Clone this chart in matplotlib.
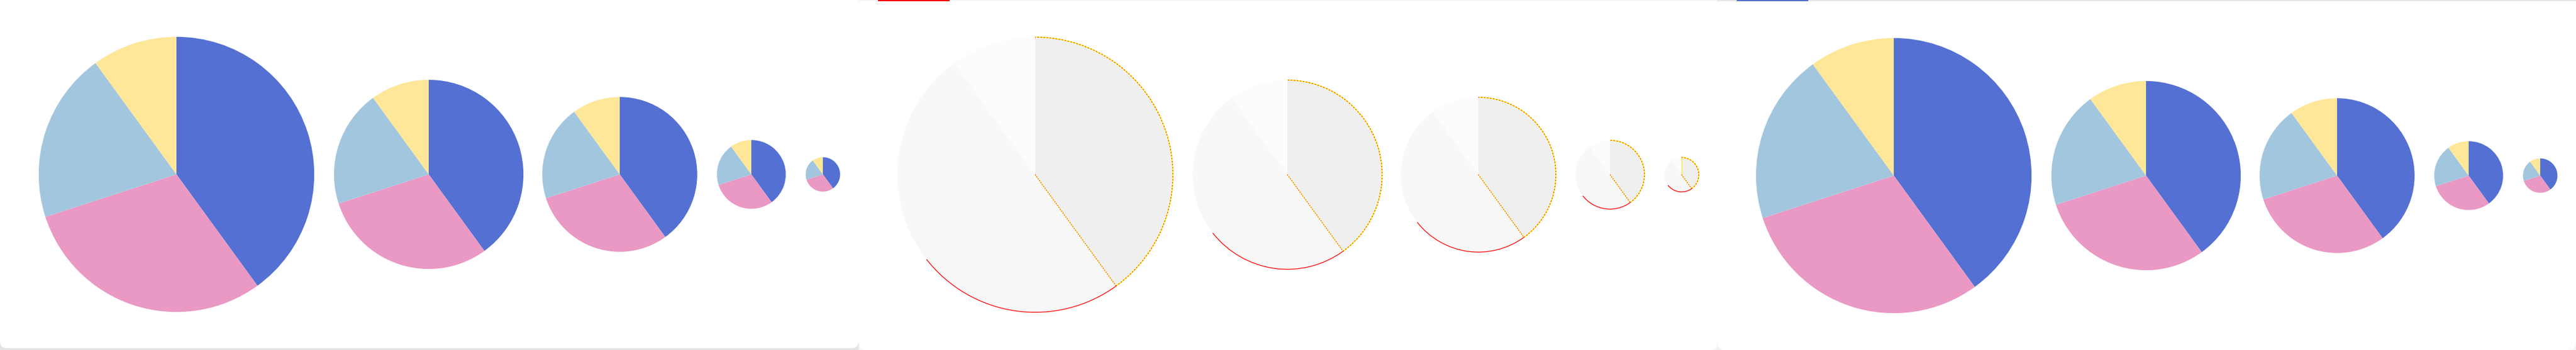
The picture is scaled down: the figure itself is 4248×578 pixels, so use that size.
import numpy as np
import matplotlib
matplotlib.use("Agg")
import matplotlib.pyplot as plt
from matplotlib.patches import Arc, Rectangle, FancyBboxPatch

# ---- data ----
categories = ["A", "B", "C", "D"]
values = [40, 30, 20, 10]
pie_radius_pct = [0.80, 0.55, 0.45, 0.20, 0.10]
colors_main = ["#5470d2", "#ea98c4", "#a3c6df", "#fee798"]
colors_ghost = ["#efefef", "#f7f7f7", "#f8f8f8", "#fcfcfc"]

W, H = 4248, 578
PANEL_W = 1416
BASE = 284.0  # half of chart container height
pie_cx = [291, 707, 1022, 1239, 1357]
panel_cy = [288, 288.5, 290]

fig = plt.figure(figsize=(W / 100, H / 100), dpi=100)
ax = fig.add_axes([0, 0, 1, 1])
ax.set_axis_off()


def Y(y_img):
    return H - y_img


# ---- panel backgrounds ----
# panel 1: card with grey shadow at the bottom
ax.add_patch(Rectangle((0, 0), PANEL_W, 22, facecolor="#e4e4e4", edgecolor="none", zorder=0))
ax.add_patch(FancyBboxPatch((12, Y(575) + 12), PANEL_W - 24, 600, boxstyle="round,pad=12",
                            facecolor="white", edgecolor="none", zorder=0.5))
# panel 2 faint corners
ax.add_patch(Rectangle((PANEL_W, 0), PANEL_W, 16, facecolor="#f6f6f6", edgecolor="none", zorder=0))
ax.add_patch(FancyBboxPatch((PANEL_W + 12, 12), PANEL_W - 24, 600, boxstyle="round,pad=12",
                            facecolor="white", edgecolor="none", zorder=0.5))
# panel 3 faint corners
ax.add_patch(Rectangle((2 * PANEL_W, 0), PANEL_W, 16, facecolor="#f3f3f3", edgecolor="none", zorder=0))
ax.add_patch(FancyBboxPatch((2 * PANEL_W + 12, 12), PANEL_W - 24, 600, boxstyle="round,pad=12",
                            facecolor="white", edgecolor="none", zorder=0.5))

# top bars
ax.add_patch(Rectangle((PANEL_W, Y(2)), PANEL_W, 2, facecolor="#f6f6f6", edgecolor="none", zorder=3))
ax.add_patch(Rectangle((PANEL_W + 32, Y(2)), 118, 2, facecolor="#ff0000", edgecolor="none", zorder=4))
ax.add_patch(Rectangle((2 * PANEL_W, Y(2)), PANEL_W, 2, facecolor="#e5e5e5", edgecolor="none", zorder=3))
ax.add_patch(Rectangle((2 * PANEL_W + 32, Y(2)), 118, 2, facecolor="#5470d2", edgecolor="none", zorder=4))

# ---- pies ----
total = float(sum(values))
cum = np.cumsum([0] + values) / total * 360.0  # clockwise from 12 o'clock

for p in range(3):
    cols = colors_ghost if p == 1 else colors_main
    cy = Y(panel_cy[p])
    for i, cx_rel in enumerate(pie_cx):
        cx = p * PANEL_W + cx_rel
        r = pie_radius_pct[i] * BASE
        wedges, _ = ax.pie(values, colors=cols, startangle=90, counterclock=False,
                           center=(cx, cy), radius=r, frame=True,
                           wedgeprops=dict(linewidth=0, antialiased=True))
        for w in wedges:
            w.set_zorder(2)
        if p == 1:
            # outline artefacts on the ghost pies
            a1 = 90 - cum[1]
            a2 = 90 - cum[2]
            ax.add_patch(Arc((cx, cy), 2 * r, 2 * r, theta1=a1, theta2=90,
                             color="#ffee00", lw=1.1, zorder=3))
            ax.add_patch(Arc((cx, cy), 2 * r, 2 * r, theta1=a1, theta2=90,
                             color="#ff0000", lw=0.8, zorder=3.1, linestyle=(0, (1.5, 3))))
            ax.add_patch(Arc((cx, cy), 2 * r, 2 * r, theta1=a2 + 20, theta2=a1,
                             color="#ff0000", lw=0.9, zorder=3))
            ang = np.deg2rad(a1)
            ax.plot([cx, cx + r * np.cos(ang)], [cy, cy + r * np.sin(ang)],
                    color="#ffee00", lw=0.7, zorder=3)
            ax.plot([cx, cx + r * np.cos(ang)], [cy, cy + r * np.sin(ang)],
                    color="#ff0000", lw=0.7, zorder=3.1, linestyle=(0, (1.5, 2.5)))
            if i == len(pie_cx) - 1:
                ax.plot([cx, cx], [cy, cy + r], color="#ffee00", lw=0.8, zorder=3)

ax.set_xlim(0, W)
ax.set_ylim(0, H)
ax.set_aspect("auto")
fig.savefig("out.png", dpi=100)
